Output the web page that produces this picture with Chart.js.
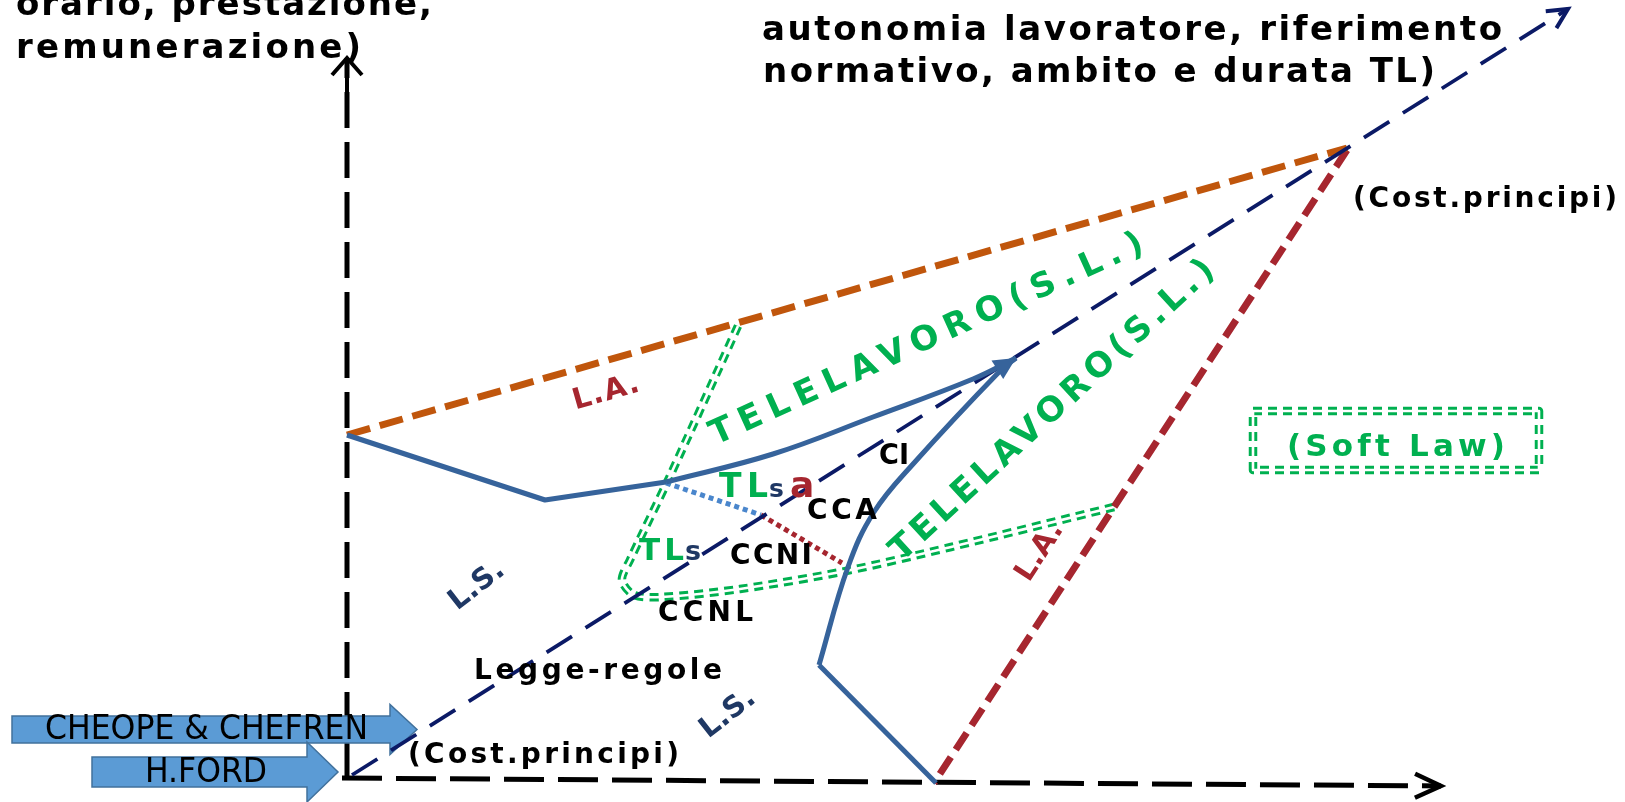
<!DOCTYPE html>
<html>
<head>
<meta charset="utf-8">
<script src="https://cdn.jsdelivr.net/npm/chart.js@4.4.1/dist/chart.umd.min.js"></script>
<style>
  html, body { margin: 0; padding: 0; background: #fff; overflow: hidden; }
  #wrap { width: 1625px; height: 802px; position: relative; }
</style>
</head>
<body>
<div id="wrap"><canvas id="schema"></canvas></div>
<script>
// Schema: piano 0..1625 in orizzontale, 0..802 in verticale (verso il basso)

// assi
const asseVerticale = [[347, 778], [347, 58]];
const asseOrizzontale = [[342, 778], [1441, 786]];
const diagonale = [[352, 775], [1568, 9]];

// L.A. (linee tratteggiate)
const laAlto = [[347, 435], [1347, 148]];
const laDestra = [[1347, 150], [934, 783]];

// L.S. (linee continue blu)
const lsAltoDritto = [[347, 435], [545, 500], [666, 482]];
const lsAltoCurva = [[666, 482], [773, 454], [873, 417], [973, 379], [1016, 358]];
const lsBassoDritto = [[936, 783], [819, 665]];
const lsBassoCurva = [[819, 665], [848, 567], [874, 512], [914, 463], [1000, 371], [1016, 358]];

// confine TL (doppio tratteggio verde)
const confineTL = [[738, 326], [670, 476], [630, 560], [622, 580], [634, 595], [662, 597],
                   [740, 589], [846, 571], [951, 547], [1114, 507]];
const riquadroSoftLaw = [[1253, 411], [1539, 411], [1539, 470], [1253, 470], [1253, 411]];

// punteggiati
const puntiTLsa = [[666, 483], [761, 515]];
const puntiCCNI = [[761, 515], [842, 563]];

// frecce storiche
const frecceNomi = ['CHEOPE & CHEFREN', 'H.FORD'];

// testi
const didascaliaSinistra = ['orario, prestazione,', 'remunerazione)'];
const didascaliaDestra = ['autonomia lavoratore, riferimento', 'normativo, ambito e durata TL)'];
const telelavoro = 'TELELAVORO(S.L.)';

const VERDE = '#00B050';
const ROSSO = '#A6262F';
const ARANCIO = '#C0560C';
const NAVY = '#0B1A66';
const BLU = '#36639B';
const BLU_TESTO = '#1F3864';
const FAM = '"DejaVu Sans", Verdana, sans-serif';

const pts = arr => arr.map(p => p ? { x: p[0], y: p[1] } : { x: null, y: null });

const linea = function(id, arr, color, width, dash, order, tension) {
    return {
        id: id,
        data: pts(arr),
        borderColor: color,
        borderWidth: width,
        borderDash: dash || [],
        borderCapStyle: 'butt',
        borderJoinStyle: 'round',
        tension: tension || 0,
        order: order,
        pointRadius: 0,
        fill: false
    };
};

// ==========================================
// TESTI E DISEGNI DI CONTORNO
// ==========================================

const scriviTesto = function(ctx, s, x, y, o) {
    ctx.save();
    ctx.font = (o.weight || 'bold') + ' ' + o.size + 'px ' + (o.family || FAM);
    ctx.fillStyle = o.color || '#000';
    ctx.textBaseline = o.base || 'middle';
    ctx.textAlign = 'left';
    ctx.letterSpacing = '0px';
    ctx.translate(x, y);
    if (o.angle) ctx.rotate(o.angle * Math.PI / 180);
    const raw = ctx.measureText(s).width;
    let w = raw, sx = 1;
    if (o.w) {
        const ls = (o.w - raw) / Math.max(1, s.length - 1);
        if (ls >= 0 && !o.squeeze && s.length > 1) ctx.letterSpacing = ls + 'px';
        else sx = o.w / raw;
        w = o.w;
    }
    const x0 = o.align === 'center' ? -w / 2 : 0;
    ctx.scale(sx, 1);
    ctx.fillText(s, x0 / sx, 0);
    ctx.restore();
};

const note = [
    { t: didascaliaSinistra[0], x: 16, y: 15, o: { w: 416, size: 34, base: 'alphabetic' } },
    { t: didascaliaSinistra[1], x: 16, y: 58, o: { w: 345, size: 34, base: 'alphabetic' } },
    { t: didascaliaDestra[0], x: 762, y: 40, o: { w: 740, size: 34, base: 'alphabetic' } },
    { t: didascaliaDestra[1], x: 763, y: 82, o: { w: 672, size: 34, base: 'alphabetic' } },

    { t: '(Cost.principi)', x: 1353, y: 200, o: { w: 264, size: 28 } },
    { t: '(Cost.principi)', x: 408, y: 756, o: { w: 271, size: 28 } },
    { t: 'Legge-regole', x: 474, y: 672, o: { w: 248, size: 28 } },
    { t: 'CCNL', x: 658, y: 614, o: { w: 95, size: 28 } },
    { t: 'CCNI', x: 730, y: 557, o: { w: 82, size: 28 } },
    { t: 'CCA', x: 807, y: 512, o: { w: 70, size: 28 } },
    { t: 'CI', x: 879, y: 457, o: { w: 30, size: 28 } },

    { t: '(Soft Law)', x: 1287, y: 448, o: { w: 218, size: 31, color: VERDE } },

    { t: 'TL', x: 719, y: 497, o: { w: 49, size: 33, color: VERDE, base: 'alphabetic' } },
    { t: 's', x: 769, y: 497, o: { size: 25, color: BLU_TESTO, base: 'alphabetic' } },
    { t: 'a', x: 790, y: 497, o: { size: 36, color: ROSSO, base: 'alphabetic' } },
    { t: 'TL', x: 639, y: 560, o: { w: 45, size: 31, color: VERDE, base: 'alphabetic' } },
    { t: 's', x: 685, y: 560, o: { size: 27, color: BLU_TESTO, base: 'alphabetic' } },

    { t: 'L.A.', x: 606, y: 393, o: { w: 68, size: 29, color: ROSSO, angle: -16, align: 'center' } },
    { t: 'L.A.', x: 1040, y: 552, o: { w: 64, size: 29, color: ROSSO, angle: -57, align: 'center' } },
    { t: 'L.S.', x: 477, y: 586, o: { w: 62, size: 29, color: BLU_TESTO, angle: -38, align: 'center' } },
    { t: 'L.S.', x: 728, y: 714, o: { w: 62, size: 29, color: BLU_TESTO, angle: -38, align: 'center' } },

    { t: telelavoro, x: 927, y: 340, o: { w: 472, size: 34, color: VERDE, angle: -24.3, align: 'center' } },
    { t: telelavoro, x: 1053, y: 411, o: { w: 428, size: 34, color: VERDE, angle: -42.7, align: 'center' } }
];

const frecce = [
    { nome: frecceNomi[0], x0: 12, x1: 390, punta: 417, y: 729.5, mezzo: 13.5, testa: 25, tx: 45, tw: 323 },
    { nome: frecceNomi[1], x0: 92, x1: 307, punta: 338, y: 772, mezzo: 15, testa: 30, tx: 145, tw: 122 }
];

const punte = [
    { da: asseVerticale[0], a: asseVerticale[1], len: 17, half: 15, color: '#000', width: 4, shaft: 38 },
    { da: asseOrizzontale[0], a: asseOrizzontale[1], len: 26, half: 12, color: '#000', width: 4.5 },
    { da: diagonale[0], a: diagonale[1], len: 20, half: 10, color: NAVY, width: 4 },
    { da: diagonale[0], a: lsAltoCurva[lsAltoCurva.length - 1], len: 22, half: 11, color: BLU, fill: true }
];

const disegnaFrecce = function(chart) {
    const ctx = chart.ctx, X = v => chart.scales.x.getPixelForValue(v), Y = v => chart.scales.y.getPixelForValue(v);
    frecce.forEach(a => {
        ctx.save();
        ctx.beginPath();
        ctx.moveTo(X(a.x0), Y(a.y - a.mezzo));
        ctx.lineTo(X(a.x1), Y(a.y - a.mezzo));
        ctx.lineTo(X(a.x1), Y(a.y - a.testa));
        ctx.lineTo(X(a.punta), Y(a.y));
        ctx.lineTo(X(a.x1), Y(a.y + a.testa));
        ctx.lineTo(X(a.x1), Y(a.y + a.mezzo));
        ctx.lineTo(X(a.x0), Y(a.y + a.mezzo));
        ctx.closePath();
        ctx.fillStyle = '#5B9BD5';
        ctx.fill();
        ctx.lineWidth = 1.5;
        ctx.strokeStyle = '#41719C';
        ctx.stroke();
        ctx.restore();
        scriviTesto(ctx, a.nome, X(a.tx), Y(a.y + 1), {
            w: a.tw, size: 34, weight: 'normal', squeeze: true,
            family: '"Liberation Sans Narrow", "DejaVu Sans Condensed", "Liberation Sans", sans-serif'
        });
    });
};

const disegnaPunte = function(chart) {
    const ctx = chart.ctx, X = v => chart.scales.x.getPixelForValue(v), Y = v => chart.scales.y.getPixelForValue(v);
    punte.forEach(p => {
        const x1 = X(p.da[0]), y1 = Y(p.da[1]), x2 = X(p.a[0]), y2 = Y(p.a[1]);
        const ang = Math.atan2(y2 - y1, x2 - x1);
        const bx = x2 - p.len * Math.cos(ang), by = y2 - p.len * Math.sin(ang);
        const nx = -Math.sin(ang) * p.half, ny = Math.cos(ang) * p.half;
        ctx.save();
        ctx.strokeStyle = p.color;
        ctx.fillStyle = p.color;
        ctx.lineWidth = p.width || 2;
        ctx.lineJoin = 'miter';
        ctx.beginPath();
        ctx.moveTo(bx + nx, by + ny);
        ctx.lineTo(x2, y2);
        ctx.lineTo(bx - nx, by - ny);
        if (p.fill) { ctx.closePath(); ctx.fill(); } else ctx.stroke();
        if (p.shaft) {
            ctx.beginPath();
            ctx.moveTo(x2, y2);
            ctx.lineTo(x2 - p.shaft * Math.cos(ang), y2 - p.shaft * Math.sin(ang));
            ctx.stroke();
        }
        ctx.restore();
    });
};

const pluginSchema = {
    id: 'schema',
    beforeDatasetDraw(chart, args) {
        if (chart.data.datasets[args.index].id === 'diagonale') disegnaFrecce(chart);
    },
    afterDatasetsDraw(chart) {
        disegnaPunte(chart);
        const X = v => chart.scales.x.getPixelForValue(v), Y = v => chart.scales.y.getPixelForValue(v);
        note.forEach(n => scriviTesto(chart.ctx, n.t, X(n.x), Y(n.y), n.o));
    }
};

// ==========================================
// GRAFICO
// ==========================================

new Chart(document.getElementById('schema').getContext('2d'), {
    type: 'line',
    data: {
        datasets: [
            linea('confine', confineTL, VERDE, 8.5, [9, 6], 40, 0.3),
            linea('confineVuoto', confineTL, '#fff', 2.6, [], 39, 0.3),
            linea('softlaw', riquadroSoftLaw, VERDE, 8.5, [9, 6], 40),
            linea('softlawVuoto', riquadroSoftLaw, '#fff', 2.6, [], 39),
            linea('asseY', asseVerticale, '#000', 5, [36, 14], 30),
            linea('asseX', asseOrizzontale, '#000', 5, [40, 14], 30),
            linea('laAlto', laAlto, ARANCIO, 7, [24, 10], 25),
            linea('laDestra', laDestra, ROSSO, 7, [20, 9], 25),
            linea('tlsa', puntiTLsa, '#4A86CC', 5, [5, 4], 20),
            linea('ccni', puntiCCNI, ROSSO, 5, [5, 4], 20),
            linea('diagonale', diagonale, NAVY, 3.8, [30, 16], 15),
            linea('lsA1', lsAltoDritto, BLU, 5, [], 10),
            linea('lsA2', lsAltoCurva, BLU, 5, [], 10, 0.4),
            linea('lsB1', lsBassoDritto, BLU, 5, [], 10),
            linea('lsB2', lsBassoCurva, BLU, 5, [], 10, 0.4)
        ]
    },
    options: {
        responsive: true,
        maintainAspectRatio: false,
        animation: false,
        events: [],
        layout: { padding: 0 },
        scales: {
            x: { type: 'linear', min: 0, max: 1625, display: false },
            y: { type: 'linear', min: 0, max: 802, reverse: true, display: false }
        },
        plugins: { legend: { display: false }, tooltip: { enabled: false } }
    },
    plugins: [pluginSchema]
});
</script>
</body>
</html>
